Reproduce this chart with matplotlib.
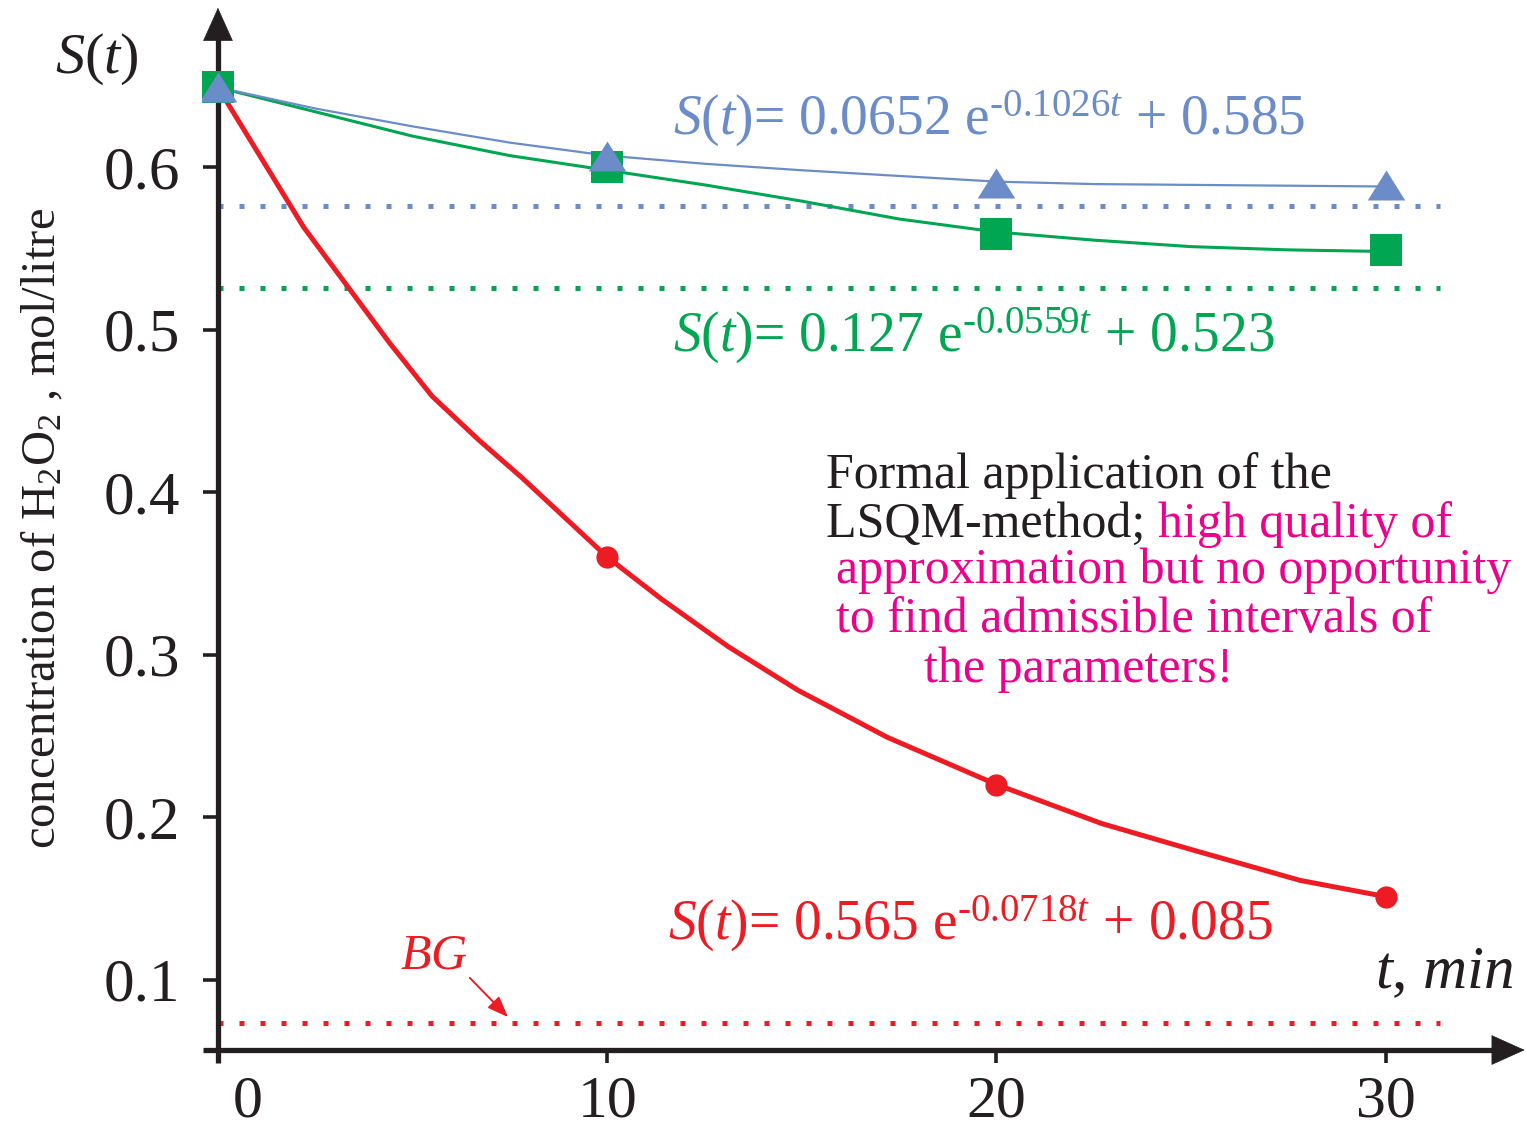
import matplotlib.pyplot as plt
from matplotlib.transforms import ScaledTranslation

plt.rcParams['font.family'] = ['Liberation Serif', 'DejaVu Serif']
plt.rcParams['mathtext.fontset'] = 'custom'
plt.rcParams['mathtext.rm'] = 'Liberation Serif'
plt.rcParams['mathtext.it'] = 'Liberation Serif:italic'

# measured points (t in min, concentration in mol/litre)
t_pts = [0, 10, 20, 30]
red_pts = [0.649, 0.360, 0.220, 0.151]
green_pts = [0.649, 0.600, 0.559, 0.549]
blue_pts = [0.649, 0.607, 0.590, 0.589]

# fitted curves
t_red = [0, 2.2, 4.4, 5.5, 6.7, 7.8, 10, 11.4, 13.1, 14.9, 17.2, 20, 22.7, 25, 27.8, 30]
red_fit = [0.649, 0.563, 0.492, 0.459, 0.432, 0.409, 0.360, 0.334, 0.305, 0.278,
           0.249, 0.220, 0.196, 0.180, 0.161, 0.151]
t_fit = [0, 2.5, 5, 7.5, 10, 12.5, 15, 17.5, 20, 22.5, 25, 27.5, 30]
green_fit = [0.649, 0.634, 0.619, 0.607, 0.598, 0.589, 0.579, 0.568, 0.560,
             0.555, 0.551, 0.549, 0.548]
blue_fit = [0.649, 0.636, 0.625, 0.615, 0.607, 0.602, 0.598, 0.5945, 0.591,
            0.5895, 0.589, 0.5885, 0.588]

# asymptote / background levels
blue_level = 0.576
green_level = 0.5255
bg_level = 0.073

x_ticks = [0, 10, 20, 30]
y_ticks = [0.1, 0.2, 0.3, 0.4, 0.5, 0.6]

RED = '#ED1C24'
GREEN = '#00A651'
BLUE = '#6B8CC8'
MAGENTA = '#EC008C'
DARK = '#231F20'

fig = plt.figure(figsize=(15.26, 11.27), dpi=100)
ax = fig.add_axes([0.13263, 0.05878, 0.86474, 0.93722])
ax.set_xlim(-0.4, 33.5)
ax.set_ylim(0.05, 0.70)

# axes drawn as arrows through the origin
x_axis_y = 0.0566
for side in ['top', 'right']:
    ax.spines[side].set_visible(False)
ax.spines['left'].set_position(('data', 0))
ax.spines['bottom'].set_position(('data', x_axis_y))
ax.spines['left'].set_bounds(0.0486, 0.68)
ax.spines['bottom'].set_bounds(-0.385, 33.0)
for side in ['left', 'bottom']:
    ax.spines[side].set_linewidth(3.8)
    ax.spines[side].set_color(DARK)
    ax.spines[side].set_capstyle('butt')

arrow_kw = dict(arrowstyle='-|>,head_length=1.0,head_width=0.45', mutation_scale=23,
                color=DARK, lw=0.5, shrinkA=0, shrinkB=0)
ax.annotate('', xy=(0, 0.698), xytext=(0, 0.66), arrowprops=arrow_kw, annotation_clip=False)
ax.annotate('', xy=(33.57, x_axis_y), xytext=(32.5, x_axis_y), arrowprops=arrow_kw,
            annotation_clip=False)

ax.set_xticks(x_ticks)
ax.set_xticklabels([str(v) for v in x_ticks])
ax.set_yticks(y_ticks)
ax.set_yticklabels([f'{v:.1f}' for v in y_ticks])
ax.tick_params(axis='x', direction='out', length=9.5, width=2.6, color=DARK,
               labelsize=43, labelcolor=DARK, pad=9)
ax.tick_params(axis='y', direction='out', length=11, width=2.6, color=DARK,
               labelsize=44, labelcolor=DARK, pad=16)
lab0 = ax.xaxis.get_major_ticks()[0].label1
lab0.set_transform(lab0.get_transform() + ScaledTranslation(0.30, 0, fig.dpi_scale_trans))

ax.set_ylabel(r'concentration of H$_2$O$_2$ , mol/litre', fontsize=35, color=DARK)
ax.yaxis.set_label_coords(-0.104, 0.504)

# dotted levels
dot_kw = dict(linewidth=3.6, linestyle=(0, (1, 3.2)))
ax.plot([0, 31.4], [blue_level, blue_level], color=BLUE, **dot_kw)
ax.plot([0, 31.4], [green_level, green_level], color=GREEN, **dot_kw)
ax.plot([0, 31.4], [bg_level, bg_level], color=RED, **dot_kw)

# fitted curves
ax.plot(t_red, red_fit, color=RED, linewidth=3.6, zorder=3)
ax.plot(t_fit, green_fit, color=GREEN, linewidth=2.2, zorder=3)
ax.plot(t_fit, blue_fit, color=BLUE, linewidth=1.6, zorder=3)

# data points
tri = [(-1, -0.8), (1, -0.8), (0, 0.8)]
ax.plot(t_pts, red_pts, 'o', color=RED, markersize=16, markeredgewidth=0, zorder=4)
ax.plot(t_pts, green_pts, 's', color=GREEN, markersize=23, markeredgewidth=0, zorder=5)
ax.plot(t_pts, blue_pts, marker=tri, linestyle='none', color=BLUE, markersize=27,
        markeredgewidth=0, zorder=6)

# labels and equations
HY = '\u2010'
ax.text(-3.1, 0.666, r'$S$($t$)', fontsize=42, color=DARK, ha='center', va='center')
ax.text(29.72, 0.0948, r'$t$, $min$', fontsize=44, color=DARK, ha='left', va='baseline')
ax.text(11.69, 0.6197, '$S$($t$)= 0.0652 e$^{' + HY + r'\mathrm{0.1026}t}$ + 0.585',
        fontsize=40, color=BLUE, ha='left', va='baseline')
ax.text(11.69, 0.4862, '$S$($t$)= 0.127 e$^{' + HY + r'\mathrm{0.0559}t}$ + 0.523',
        fontsize=40, color=GREEN, ha='left', va='baseline')
ax.text(11.56, 0.1243, '$S$($t$)= 0.565 e$^{' + HY + r'\mathrm{0.0718}t}$ + 0.085',
        fontsize=40, color=RED, ha='left', va='baseline')

ax.text(4.68, 0.107, r'$BG$', fontsize=36, color=RED, ha='left', va='baseline')
ax.annotate('', xy=(7.45, 0.0769), xytext=(6.47, 0.101),
            arrowprops=dict(arrowstyle='-|>,head_length=0.9,head_width=0.35',
                            mutation_scale=14, color=RED, lw=1.4,
                            shrinkA=0, shrinkB=0))

note_size = 36
ax.text(15.62, 0.4025, 'Formal application of the', fontsize=note_size,
        color=DARK, ha='left', va='baseline')
t2 = ax.text(15.62, 0.3723, 'LSQM-method; ', fontsize=note_size, color=DARK,
             ha='left', va='baseline')
ax.annotate('high quality of', xy=(1, 0), xycoords=t2, fontsize=note_size,
            color=MAGENTA, ha='left', va='bottom')
ax.text(15.87, 0.344, 'approximation but no opportunity', fontsize=note_size,
        color=MAGENTA, ha='left', va='baseline')
ax.text(15.87, 0.3138, 'to find admissible intervals of', fontsize=note_size,
        color=MAGENTA, ha='left', va='baseline')
ax.text(18.13, 0.283, 'the parameters!', fontsize=note_size,
        color=MAGENTA, ha='left', va='baseline')

fig.savefig('out.png', dpi=100)
